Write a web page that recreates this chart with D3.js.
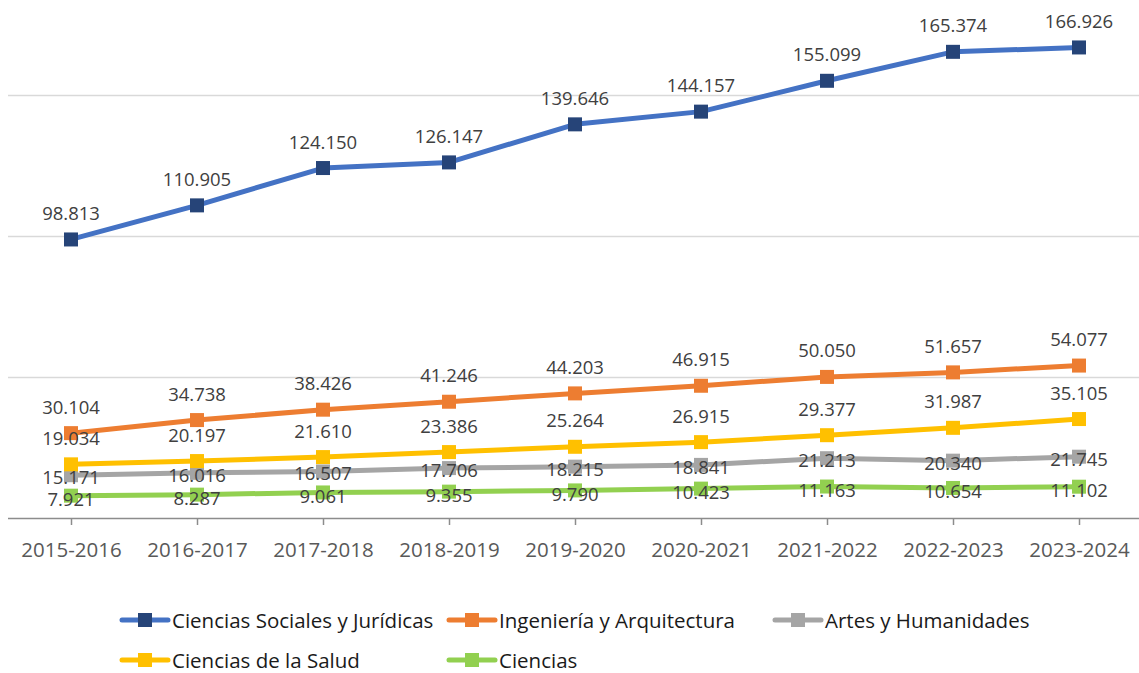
<!DOCTYPE html>
<html>
<head>
<meta charset="utf-8">
<script src="https://cdn.jsdelivr.net/npm/d3@7"></script>
<style>
  body { margin: 0; background: #fff; }
  text { font-family: 'Open Sans', 'Noto Sans', sans-serif; }
</style>
</head>
<body>
<div id="chart"></div>
<script>
// categories (academic years)
var years = ['2015-2016', '2016-2017', '2017-2018', '2018-2019', '2019-2020',
    '2020-2021', '2021-2022', '2022-2023', '2023-2024'];

// series values
var socialesJuridicas = [98813, 110905, 124150, 126147, 139646, 144157, 155099, 165374, 166926];
var ingenieriaArquitectura = [30104, 34738, 38426, 41246, 44203, 46915, 50050, 51657, 54077];
var artesHumanidades = [15171, 16016, 16507, 17706, 18215, 18841, 21213, 20340, 21745];
var cienciasSalud = [19034, 20197, 21610, 23386, 25264, 26915, 29377, 31987, 35105];
var ciencias = [7921, 8287, 9061, 9355, 9790, 10423, 11163, 10654, 11102];

var seriesNames = ['Ciencias Sociales y Jurídicas', 'Ingeniería y Arquitectura',
    'Artes y Humanidades', 'Ciencias de la Salud', 'Ciencias'];

var gridTicks = [50000, 100000, 150000];

// styling per series (line colour, marker colour, label offset from point)
var series = [
    { name: seriesNames[0], values: socialesJuridicas, line: '#4472C4', marker: '#264478', dy: -27 },
    { name: seriesNames[1], values: ingenieriaArquitectura, line: '#ED7D31', marker: '#ED7D31', dy: -27 },
    { name: seriesNames[2], values: artesHumanidades, line: '#A5A5A5', marker: '#A5A5A5', dy: 1.5 },
    { name: seriesNames[3], values: cienciasSalud, line: '#FFC000', marker: '#FFC000', dy: -27 },
    { name: seriesNames[4], values: ciencias, line: '#92D050', marker: '#92D050', dy: 3 }
];

var svgWidth = 1139;
var svgHeight = 673;

var svg = d3.select('#chart')
    .append('svg')
    .attr('width', svgWidth)
    .attr('height', svgHeight);

var x = d3.scalePoint()
    .domain(years)
    .range([8, 1142])
    .padding(0.5);

var y = d3.scaleLinear()
    .domain([0, 180000])
    .range([518, 10.6]);

// gridlines
svg.append('g')
    .selectAll('line')
    .data(gridTicks)
    .enter()
    .append('line')
    .attr('x1', 8)
    .attr('x2', 1139)
    .attr('y1', d => Math.round(y(d)) + 0.5)
    .attr('y2', d => Math.round(y(d)) + 0.5)
    .attr('stroke', '#d9d9d9')
    .attr('stroke-width', 1.3);

// x axis
var xAxis = svg.append('g')
    .attr('transform', `translate(0, ${y(0)})`)
    .call(d3.axisBottom(x).tickSizeOuter(0).tickSizeInner(7).tickPadding(17));
xAxis.select('.domain').attr('d', 'M8,0.5H1139').attr('stroke', '#8c8c8c').attr('stroke-width', 1.5);
xAxis.selectAll('.tick line').attr('stroke', '#8c8c8c').attr('stroke-width', 1.5);
xAxis.selectAll('.tick text')
    .attr('fill', '#595959')
    .style('font-size', '20.5px')
    .style('font-family', "'Open Sans', 'Noto Sans', sans-serif");

// lines
var line = d3.line()
    .x((d, i) => x(years[i]))
    .y(d => y(d));

series.forEach(s => {
    var g = svg.append('g');
    g.append('path')
        .datum(s.values)
        .attr('fill', 'none')
        .attr('stroke', s.line)
        .attr('stroke-width', 5)
        .attr('stroke-linejoin', 'round')
        .attr('d', line);
    g.selectAll('rect')
        .data(s.values)
        .enter()
        .append('rect')
        .attr('x', (d, i) => x(years[i]) - 7)
        .attr('y', d => y(d) - 7)
        .attr('width', 14)
        .attr('height', 14)
        .attr('fill', s.marker);
});

// data labels
series.forEach(s => {
    svg.append('g')
        .selectAll('text')
        .data(s.values)
        .enter()
        .append('text')
        .attr('x', (d, i) => x(years[i]))
        .attr('y', d => y(d) + s.dy)
        .attr('dominant-baseline', 'central')
        .attr('text-anchor', 'middle')
        .attr('fill', '#404040')
        .style('font-size', '18.5px')
        .text(d => d3.format(',')(d).replace(/,/g, '.'));
});

// legend
var legendPos = [[120, 620], [447, 620], [773, 620], [120, 660], [447, 660]];
series.forEach((s, i) => {
    var lg = svg.append('g')
        .attr('transform', `translate(${legendPos[i][0]}, ${legendPos[i][1]})`);
    lg.append('line')
        .attr('x1', 2).attr('x2', 48)
        .attr('stroke', s.line)
        .attr('stroke-width', 5)
        .attr('stroke-linecap', 'round');
    lg.append('rect')
        .attr('x', 18).attr('y', -7)
        .attr('width', 14).attr('height', 14)
        .attr('fill', s.marker);
    lg.append('text')
        .attr('x', 52)
        .attr('y', 0)
        .attr('dominant-baseline', 'central')
        .attr('fill', '#1a1a1a')
        .style('font-size', '20.5px')
        .text(s.name);
});
</script>
</body>
</html>
